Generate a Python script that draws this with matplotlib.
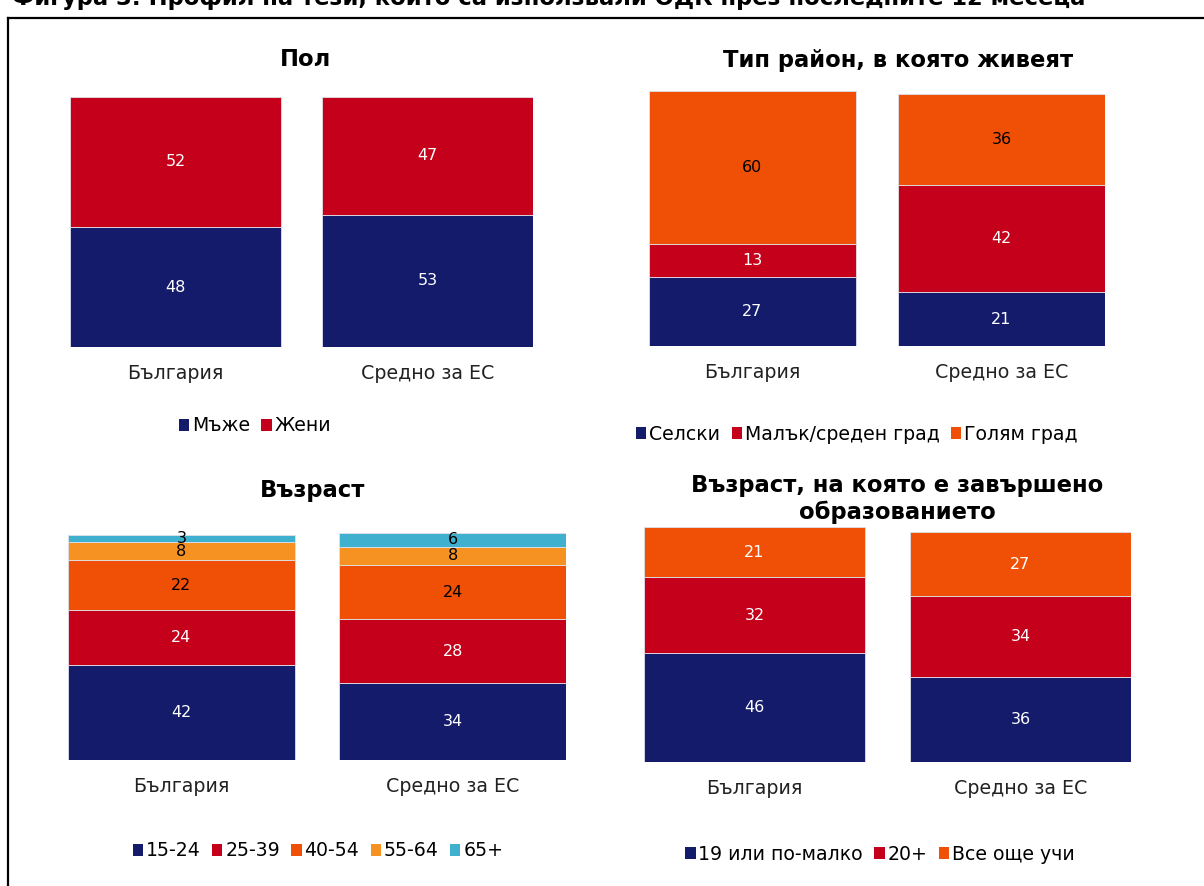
import matplotlib.pyplot as plt
from matplotlib.patches import Patch
from matplotlib.lines import Line2D

plt.rcParams['font.family'] = ['DejaVu Sans']

# Размер на фигурата в пиксели
W = 1204
H = 886

# Цветове
NAVY = "#141B6B"
RED = "#C4001A"
ORANGE = "#F05006"
LIGHT_ORANGE = "#F59222"
CYAN = "#3FB1CE"

countries = ["България", "Средно за ЕС"]

# Пол
pol_labels = ["Мъже", "Жени"]
pol_mazhe = [48, 53]
pol_zheni = [52, 47]

# Тип район
rayon_labels = ["Селски", "Малък/среден град", "Голям град"]
rayon_selski = [27, 21]
rayon_malak = [13, 42]
rayon_golyam = [60, 36]

# Възраст
vazrast_labels = ["15-24", "25-39", "40-54", "55-64", "65+"]
vazrast_15_24 = [42, 34]
vazrast_25_39 = [24, 28]
vazrast_40_54 = [22, 24]
vazrast_55_64 = [8, 8]
vazrast_65 = [3, 6]

# Възраст на завършване на образованието
obr_labels = ["19 или по-малко", "20+", "Все още учи"]
obr_19 = [46, 36]
obr_20 = [32, 34]
obr_uchi = [21, 27]

TITLE_SIZE = 16.3


def ax_px(fig, x0, x1, y_bottom, y_top):
    # оси по пикселни координати (y отгоре надолу)
    return fig.add_axes([x0 / W, 1 - y_bottom / H, (x1 - x0) / W, (y_bottom - y_top) / H])


def stacked(ax, series, colors, text_colors, width):
    bottoms = [0, 0]
    for vals, col, tc in zip(series, colors, text_colors):
        bars = ax.bar([0, 1], vals, width, bottom=bottoms, color=col,
                      edgecolor="#dfe1ea", linewidth=0.6)
        for b, v, bt in zip(bars, vals, bottoms):
            ax.text(b.get_x() + b.get_width() / 2, bt + v / 2, str(v),
                    ha="center", va="center", fontsize=11.5, color=tc)
        bottoms = [a + b for a, b in zip(bottoms, vals)]
    ax.set_xlim(-width / 2, 1 + width / 2)
    ax.set_ylim(0, 100)
    ax.set_xticks([0, 1])
    ax.set_xticklabels(countries, fontsize=13.7, color="#222222")
    ax.tick_params(length=0, pad=12)
    ax.set_yticks([])
    for s in ax.spines.values():
        s.set_visible(False)


def legenda(fig, labels, colors, cx, cy):
    handles = [Patch(facecolor=c, edgecolor="none") for c in colors]
    fig.legend(handles, labels, loc="center", bbox_to_anchor=(cx / W, 1 - cy / H),
               ncol=len(labels), frameon=False, fontsize=13.6, handlelength=0.55,
               handleheight=0.55, handletextpad=0.15, columnspacing=0.6)


fig = plt.figure(figsize=(W / 100, H / 100), dpi=100)

# Заглавие (отрязано в горния край)
fig.text(12 / W, 1 - 5 / H,
         "Фигура 3: Профил на тези, които са използвали ОДК през последните 12 месеца",
         ha="left", va="baseline", fontsize=16.3, fontweight="bold")

# Рамка
fig.add_artist(Line2D([8 / W, 1], [1 - 18 / H, 1 - 18 / H], color="black", lw=1.6))
fig.add_artist(Line2D([8 / W, 8 / W], [1 - 18 / H, 0], color="black", lw=1.6))

# Пол
ax1 = ax_px(fig, 70, 533, 347, 97)
stacked(ax1, [pol_mazhe, pol_zheni], [NAVY, RED], ["white", "white"], 0.837)
fig.text(305 / W, 1 - 60 / H, "Пол", ha="center", va="center", fontsize=TITLE_SIZE,
         fontweight="bold")
legenda(fig, pol_labels, [NAVY, RED], 255, 426)

# Тип район
ax2 = ax_px(fig, 649, 1105, 346, 91)
stacked(ax2, [rayon_selski, rayon_malak, rayon_golyam], [NAVY, RED, ORANGE],
        ["white", "white", "black"], 0.831)
fig.text(898 / W, 1 - 60 / H, "Тип район, в която живеят", ha="center", va="center",
         fontsize=TITLE_SIZE, fontweight="bold")
legenda(fig, rayon_labels, [NAVY, RED, ORANGE], 857, 434)

# Възраст
ax3 = ax_px(fig, 68, 566, 760, 533)
stacked(ax3, [vazrast_15_24, vazrast_25_39, vazrast_40_54, vazrast_55_64, vazrast_65],
        [NAVY, RED, ORANGE, LIGHT_ORANGE, CYAN],
        ["white", "white", "black", "black", "black"], 0.836)
fig.text(313 / W, 1 - 490 / H, "Възраст", ha="center", va="center", fontsize=TITLE_SIZE,
         fontweight="bold")
legenda(fig, vazrast_labels, [NAVY, RED, ORANGE, LIGHT_ORANGE, CYAN], 318, 851)

# Образование
ax4 = ax_px(fig, 644, 1131, 762, 525)
stacked(ax4, [obr_19, obr_20, obr_uchi], [NAVY, RED, ORANGE],
        ["white", "white", "white"], 0.831)
fig.text(897 / W, 1 - 499 / H, "Възраст, на която е завършено\nобразованието", ha="center",
         va="center", fontsize=TITLE_SIZE, fontweight="bold", linespacing=1.15)
legenda(fig, obr_labels, [NAVY, RED, ORANGE], 880, 854)

fig.savefig("out.png", dpi=100)
